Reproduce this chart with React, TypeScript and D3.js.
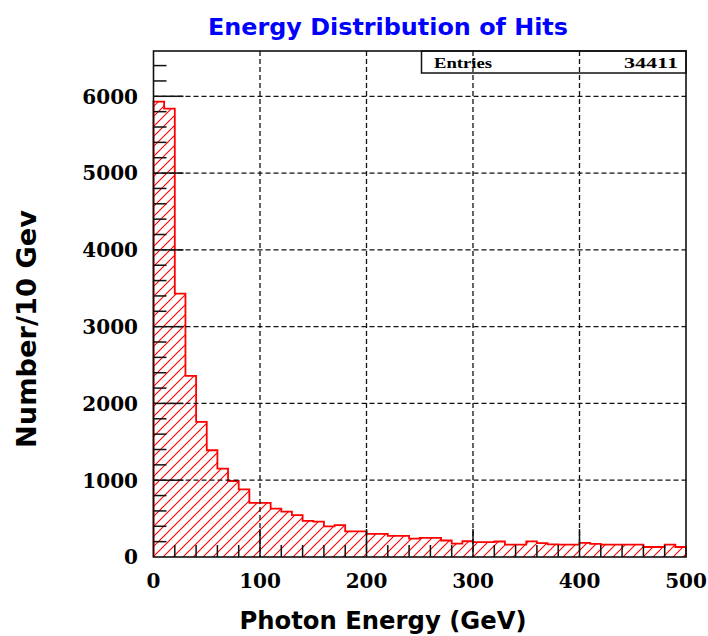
import React from "react";
import * as d3 from "d3";

// ---- data ----
const binWidth = 10; // GeV
const binValues = [
  5930, 5840, 3430, 2360, 1760, 1390, 1150, 990, 880, 705,
  705, 630, 590, 545, 470, 460, 400, 415, 335, 335,
  300, 300, 275, 275, 240, 250, 250, 215, 175, 205,
  195, 195, 202, 160, 160, 203, 180, 165, 160, 160,
  185, 170, 160, 160, 160, 160, 130, 130, 160, 130,
];
const xTicks = [0, 100, 200, 300, 400, 500];
const yTicks = [0, 1000, 2000, 3000, 4000, 5000, 6000];
const entries = "34411";
const titleText = "Energy Distribution of Hits";
const xTitle = "Photon Energy (GeV)";
const yTitle = "Number/10 Gev";

const W = 708;
const H = 636;
const L = 153.5, R = 686, T = 51, B = 557;

export default function App() {
  const x = d3.scaleLinear().domain([0, 500]).range([L, R]);
  const y = d3.scaleLinear().domain([0, 6590]).range([B, T]);

  const pts: [number, number][] = [[0, 0]];
  binValues.forEach((v, i) => {
    pts.push([i * binWidth, v]);
    pts.push([(i + 1) * binWidth, v]);
  });
  pts.push([binValues.length * binWidth, 0]);
  const line = d3.line<[number, number]>().x((d) => x(d[0])).y((d) => y(d[1]));
  const pathD = line(pts) || "";

  const xMinor = d3.range(0, 501, 20).filter((v) => v % 100 !== 0);
  const yMinor = d3.range(0, 6590, 200).filter((v) => v % 1000 !== 0);
  const xMajorInner = xTicks.filter((v) => v > 0 && v < 500);
  const yMajorInner = yTicks.filter((v) => v > 0);

  const serif = "'DejaVu Serif', serif";
  const sans = "'DejaVu Sans', sans-serif";

  return (
    <svg width={W} height={H} style={{ position: "absolute", left: 0, top: 0, background: "#fff" }}>
      <defs>
        <pattern id="hatch" patternUnits="userSpaceOnUse" width={10} height={10}>
          <path d="M-2,2 L2,-2 M0,10 L10,0 M8,12 L12,8" stroke="#ff0000" strokeWidth={1.1} />
        </pattern>
      </defs>
      <rect x={0} y={0} width={W} height={H} fill="#fff" />

      {/* histogram */}
      <path d={pathD + "Z"} fill="url(#hatch)" stroke="none" />
      <path d={pathD} fill="none" stroke="#ff0000" strokeWidth={1.8} />

      {/* grid */}
      {yMajorInner.map((v) => (
        <line key={"gy" + v} x1={L} x2={R} y1={y(v)} y2={y(v)} stroke="#111" strokeWidth={1.3} strokeDasharray="5,3" />
      ))}
      {xMajorInner.map((v) => (
        <line key={"gx" + v} x1={x(v)} x2={x(v)} y1={T} y2={B} stroke="#111" strokeWidth={1.3} strokeDasharray="5,3" />
      ))}

      {/* ticks */}
      {yMajorInner.map((v) => (
        <line key={"ty" + v} x1={L} x2={L + 30} y1={y(v)} y2={y(v)} stroke="#111" strokeWidth={1.5} />
      ))}
      {yMinor.map((v) => (
        <line key={"tym" + v} x1={L} x2={L + 13} y1={y(v)} y2={y(v)} stroke="#111" strokeWidth={1.5} />
      ))}
      {xMajorInner.map((v) => (
        <line key={"tx" + v} x1={x(v)} x2={x(v)} y1={B} y2={B - 28} stroke="#111" strokeWidth={1.5} />
      ))}
      {xMinor.map((v) => (
        <line key={"txm" + v} x1={x(v)} x2={x(v)} y1={B} y2={B - 12} stroke="#111" strokeWidth={1.5} />
      ))}

      {/* frame */}
      <rect x={L} y={T} width={R - L} height={B - T} fill="none" stroke="#111" strokeWidth={1.6} />

      {/* stats box */}
      <rect x={421.5} y={T} width={R - 421.5} height={22} fill="none" stroke="#111" strokeWidth={1.5} />
      <text x={434} y={68} fontFamily="'Liberation Serif', serif" fontWeight="bold" fontSize={14} textLength={58} lengthAdjust="spacingAndGlyphs">Entries</text>
      <text x={624} y={68} fontFamily="'Liberation Serif', serif" fontWeight="bold" fontSize={14} textLength={54} lengthAdjust="spacingAndGlyphs">{entries}</text>

      {/* tick labels */}
      {yTicks.map((v) => (
        <text key={"ly" + v} x={138} y={y(v) + 7.3} textAnchor="end" fontFamily={serif} fontWeight="bold" fontSize={20}>{v}</text>
      ))}
      {xTicks.map((v) => (
        <text key={"lx" + v} x={x(v)} y={588} textAnchor="middle" fontFamily={serif} fontWeight="bold" fontSize={20}>{v}</text>
      ))}

      {/* titles */}
      <text x={388} y={35} textAnchor="middle" fill="#0000ff" fontFamily={sans} fontWeight="bold" fontSize={23} textLength={360} lengthAdjust="spacingAndGlyphs">{titleText}</text>
      <text x={383} y={629} textAnchor="middle" fontFamily={sans} fontWeight="bold" fontSize={25} textLength={287} lengthAdjust="spacingAndGlyphs">{xTitle}</text>
      <text transform="translate(36,329) rotate(-90)" textAnchor="middle" fontFamily={sans} fontWeight="bold" fontSize={26} textLength={238} lengthAdjust="spacingAndGlyphs">{yTitle}</text>
    </svg>
  );
}
